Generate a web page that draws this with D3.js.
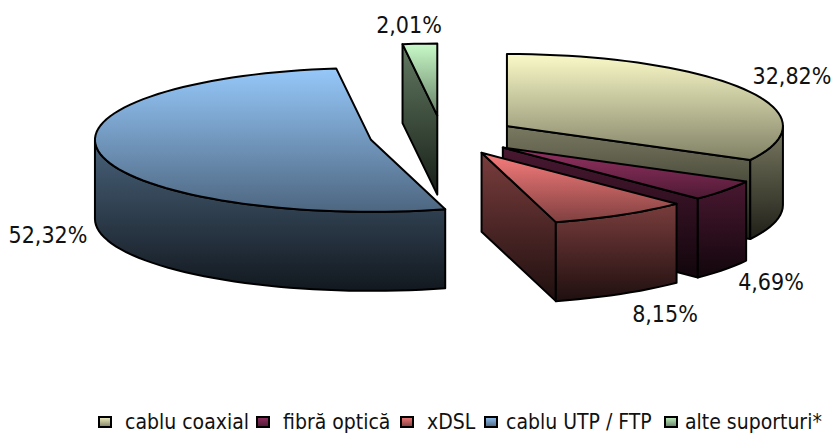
<!DOCTYPE html>
<html>
<head>
<meta charset="utf-8">
<style>
html,body{margin:0;padding:0;background:#fff}
svg{display:block}
text{font-family:"DejaVu Sans Condensed","DejaVu Sans",sans-serif;font-stretch:condensed;fill:#111}
</style>
<script src="https://cdn.jsdelivr.net/npm/d3@7/dist/d3.min.js"></script>
</head>
<body>
<script>
// ---- data ----
const categories = ["cablu coaxial", "fibră optică", "xDSL", "cablu UTP / FTP", "alte suporturi*"];
const values = [32.82, 4.69, 8.15, 52.32, 2.01];
const colors = ["#FFFFCC", "#993366", "#FF8080", "#99CCFF", "#CCFFCC"];

// ---- layout (not data) ----
const W = 834, H = 433;
const center = {x: 444, y: 136};
const radiusX = 276, radiusY = 72, depth = 79, explode = 0.27;
const drawOrder = [4, 0, 3, 1, 2];
const sliceNudge = [[-1, 0], [-1, 0], [0, 0], [0, 0], [-2, -1]];
const labelAnchors = [[792, 84], [771, 290], [665, 322], [48, 243], [409, 33]];
const legendSwatchX = [98, 256, 400, 484, 664];
const legendTextX = [125, 283, 427, 506, 685];
const fontSize = 23, legendFontSize = 21;

const svg = d3.select("body").append("svg").attr("width", W).attr("height", H);
const defs = svg.append("defs");

function grad(id, color, from, to) {
  const c = d3.color(color);
  const g = defs.append("linearGradient").attr("id", id)
    .attr("x1", 0).attr("y1", 0).attr("x2", 0).attr("y2", 1);
  const mul = k => d3.rgb(c.r * k, c.g * k, c.b * k).formatHex();
  g.append("stop").attr("offset", 0).attr("stop-color", mul(from));
  g.append("stop").attr("offset", 1).attr("stop-color", mul(to));
}

const TAU = 2 * Math.PI;
const arcs = d3.pie().sort(null).value(d => d).startAngle(0).endAngle(TAU)(values);

const sx = d3.scaleLinear().domain([-1, 1]).range([-radiusX, radiusX]);
const sy = d3.scaleLinear().domain([-1, 1]).range([radiusY, -radiusY]); // +1 = far side

const line = d3.line();
const group = svg.append("g");

function rimPoints(a0, a1, ox, oy) {
  const n = Math.max(2, Math.ceil((a1 - a0) / (TAU / 140)));
  return d3.range(n + 1).map(i => {
    const a = a0 + (a1 - a0) * i / n;
    return [ox + sx(Math.sin(a)), oy + sy(Math.cos(a))];
  });
}

function drawFace(pts, fill) {
  group.append("path").attr("d", line(pts) + "Z").attr("fill", fill)
    .attr("stroke", "#000").attr("stroke-width", 2).attr("stroke-linejoin", "round");
}

drawOrder.forEach(i => {
  const d = arcs[i];
  const mid = (d.startAngle + d.endAngle) / 2;
  const ox = center.x + explode * sx(Math.sin(mid)) + sliceNudge[i][0];
  const oy = center.y + explode * sy(Math.cos(mid)) + sliceNudge[i][1];
  grad("top" + i, colors[i], 0.98, 0.5);
  grad("side" + i, colors[i], 0.48, 0.12);
  const sideFill = `url(#side${i})`, topFill = `url(#top${i})`;
  const apex = [ox, oy];
  const down = p => [p[0], p[1] + depth];
  const rim = rimPoints(d.startAngle, d.endAngle, ox, oy);

  // Start cut face, visible when it faces the viewer
  if (Math.sin(d.startAngle) < -1e-6) {
    const p = rim[0];
    drawFace([apex, p, down(p), down(apex)], sideFill);
  }
  // End cut face
  if (Math.sin(d.endAngle) > 1e-6) {
    const p = rim[rim.length - 1];
    drawFace([apex, p, down(p), down(apex)], sideFill);
  }
  // Outer wall: the part of the rim on the near side
  const w0 = Math.max(d.startAngle, TAU / 4), w1 = Math.min(d.endAngle, 3 * TAU / 4);
  if (w1 > w0) {
    const wall = rimPoints(w0, w1, ox, oy);
    drawFace(wall.concat(wall.map(down).reverse()), sideFill);
  }
  // Top surface
  drawFace([apex].concat(rim), topFill);
});

// value labels
const fmt = v => v.toFixed(2).replace(".", ",") + "%";
svg.append("g").selectAll("text").data(values).join("text")
  .attr("x", (d, i) => labelAnchors[i][0])
  .attr("y", (d, i) => labelAnchors[i][1])
  .attr("text-anchor", "middle")
  .attr("font-size", fontSize)
  .text(fmt);

// legend
categories.forEach((c, i) => {
  grad("leg" + i, colors[i], 0.95, 0.5);
  svg.append("rect").attr("x", legendSwatchX[i] + 1).attr("y", 417).attr("width", 12).attr("height", 10)
    .attr("fill", `url(#leg${i})`).attr("stroke", "#000").attr("stroke-width", 2);
  svg.append("text").attr("x", legendTextX[i]).attr("y", 429)
    .attr("font-size", legendFontSize).text(c);
});
</script>
</body>
</html>
